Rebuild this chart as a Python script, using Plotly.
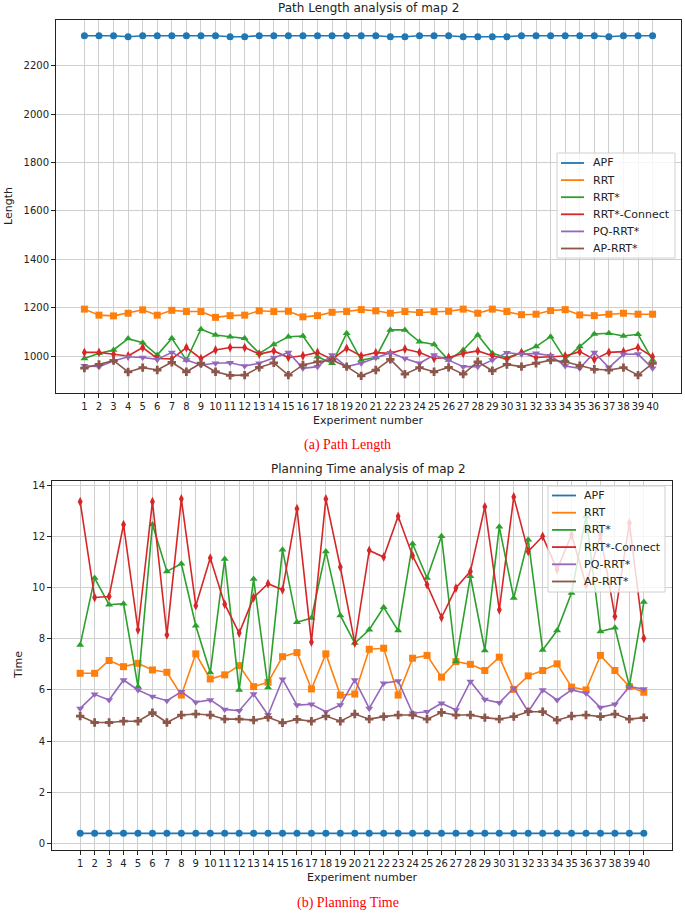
import plotly.graph_objects as go

W, H = 685, 914

experiments = list(range(1, 41))
series_names = ["APF", "RRT", "RRT*", "RRT*-Connect", "PQ-RRT*", "AP-RRT*"]
colors = ["#1f77b4", "#ff7f0e", "#2ca02c", "#d62728", "#9467bd", "#8c564b"]
symbols = ["circle", "square", "triangle-up", "diamond-tall", "triangle-down", "cross"]

# ---- Path length (map 2) ----
len_apf = [2325, 2325, 2325, 2321, 2325, 2325, 2325, 2325, 2325, 2325,
           2321, 2321, 2325, 2325, 2325, 2325, 2325, 2325, 2325, 2325,
           2325, 2321, 2321, 2325, 2325, 2325, 2321, 2321, 2321, 2321,
           2325, 2325, 2325, 2325, 2325, 2325, 2321, 2325, 2325, 2325]
len_rrt = [1194, 1169, 1166, 1177, 1191, 1169, 1189, 1184, 1184, 1160,
           1167, 1169, 1187, 1184, 1185, 1162, 1167, 1181, 1184, 1192,
           1187, 1177, 1184, 1180, 1184, 1185, 1194, 1177, 1194, 1184,
           1171, 1173, 1188, 1192, 1170, 1167, 1173, 1177, 1173, 1173]
len_rrtstar = [990, 1011, 1025, 1072, 1055, 1004, 1073, 983, 1111, 1087,
               1080, 1073, 1011, 1048, 1080, 1083, 997, 970, 1094, 983,
               994, 1108, 1108, 1059, 1048, 983, 1025, 1087, 1011, 993,
               1014, 1039, 1080, 986, 1039, 1091, 1094, 1083, 1090, 983]
len_connect = [1015, 1015, 1007, 1000, 1035, 990, 988, 1035, 989, 1025,
               1035, 1035, 1008, 1021, 994, 1001, 1015, 986, 1032, 1000,
               1014, 1011, 1029, 1015, 990, 994, 1011, 1021, 1001, 988,
               1015, 994, 997, 1000, 1018, 986, 1015, 1018, 1035, 997]
len_pq = [960, 956, 979, 997, 994, 986, 1015, 983, 963, 970,
          972, 959, 970, 994, 1015, 949, 956, 1004, 956, 970,
          993, 1014, 990, 970, 1004, 983, 956, 956, 983, 1014,
          1007, 1011, 1001, 959, 949, 1015, 952, 1007, 1008, 949]
len_ap = [950, 965, 981, 934, 952, 942, 974, 935, 970, 935,
          920, 921, 953, 972, 921, 963, 976, 983, 956, 918,
          942, 986, 925, 952, 935, 953, 925, 976, 939, 965,
          956, 970, 983, 976, 960, 945, 942, 952, 921, 970]

# ---- Planning time (map 2) ----
time_apf = [0.4] * 40
time_rrt = [6.65, 6.65, 7.15, 6.91, 7.04, 6.78, 6.69, 5.80, 7.41, 6.43,
            6.59, 6.95, 6.13, 6.30, 7.30, 7.46, 6.04, 7.41, 5.80, 5.84,
            7.59, 7.63, 5.80, 7.24, 7.35, 6.50, 7.11, 7.00, 6.76, 7.28,
            6.02, 6.55, 6.76, 7.02, 6.11, 6.00, 7.35, 6.76, 6.13, 5.91]
time_rrtstar = [7.76, 10.37, 9.33, 9.37, 6.13, 12.46, 10.63, 10.93, 8.51, 6.68,
                11.11, 6.00, 10.33, 6.10, 11.48, 8.64, 8.81, 11.41, 8.91, 7.83,
                8.35, 9.23, 8.32, 11.71, 10.37, 12.00, 7.11, 10.44, 7.54, 12.37,
                9.59, 11.87, 7.56, 8.32, 9.79, 12.78, 8.28, 8.43, 6.16, 9.43]
time_connect = [13.35, 9.61, 9.65, 12.46, 8.35, 13.35, 8.15, 13.46, 9.29, 11.15,
                9.35, 8.22, 9.61, 10.15, 9.91, 13.08, 7.87, 13.46, 10.80, 7.83,
                11.45, 11.19, 12.78, 11.24, 10.11, 8.83, 9.98, 10.63, 13.15, 9.13,
                13.54, 11.41, 12.00, 10.70, 12.06, 10.11, 12.06, 8.87, 12.52, 8.02]
time_pq = [5.28, 5.83, 5.61, 6.39, 6.00, 5.74, 5.58, 5.93, 5.52, 5.61,
           5.24, 5.19, 5.84, 5.02, 6.42, 5.41, 5.44, 5.15, 5.41, 6.39,
           5.28, 6.26, 6.35, 5.09, 5.15, 5.48, 5.22, 6.33, 5.63, 5.50,
           6.07, 5.15, 6.00, 5.61, 6.00, 5.87, 5.31, 5.44, 6.13, 6.04]
time_ap = [4.98, 4.73, 4.73, 4.78, 4.78, 5.11, 4.73, 5.02, 5.06, 5.02,
           4.86, 4.86, 4.82, 4.93, 4.72, 4.85, 4.78, 4.98, 4.78, 5.06,
           4.86, 4.96, 5.02, 5.02, 4.86, 5.12, 5.02, 5.02, 4.92, 4.86,
           4.96, 5.15, 5.15, 4.82, 4.98, 5.02, 4.96, 5.06, 4.86, 4.92]

length_ticks = [1000, 1200, 1400, 1600, 1800, 2000, 2200]
time_ticks = [0, 2, 4, 6, 8, 10, 12, 14]

length_series = [len_apf, len_rrt, len_rrtstar, len_connect, len_pq, len_ap]
time_series = [time_apf, time_rrt, time_rrtstar, time_connect, time_pq, time_ap]

FONT = "DejaVu Sans"
TXT = "#222222"


def px_x(p):
    return p / W


def px_y(p):
    return 1 - p / H


fig = go.Figure()

for name, vals, col, sym in zip(series_names, length_series, colors, symbols):
    fig.add_trace(go.Scatter(
        x=experiments, y=vals, mode="lines+markers", name=name,
        line=dict(color=col, width=1.6),
        marker=dict(symbol=sym, size=7, color=col),
        xaxis="x", yaxis="y", showlegend=False))

for name, vals, col, sym in zip(series_names, time_series, colors, symbols):
    fig.add_trace(go.Scatter(
        x=experiments, y=vals, mode="lines+markers", name=name,
        line=dict(color=col, width=1.6),
        marker=dict(symbol=sym, size=7, color=col),
        xaxis="x2", yaxis="y2", showlegend=False))

axis_common = dict(
    showline=True, mirror=True, linecolor=TXT, linewidth=1,
    ticks="outside", ticklen=4, tickcolor=TXT,
    showgrid=True, gridcolor="#cfcfcf", gridwidth=1,
    zeroline=False, tickfont=dict(family=FONT, size=10, color=TXT),
)

x_range = [-0.95, 41.95]

fig.update_layout(
    width=W, height=H,
    margin=dict(l=0, r=0, t=0, b=0),
    paper_bgcolor="white", plot_bgcolor="white",
    font=dict(family=FONT, color=TXT),
    showlegend=False,
    hovermode=False,
    xaxis=dict(domain=[px_x(56), px_x(681)], range=x_range, tickmode="array",
               tickvals=experiments, ticktext=[str(e) for e in experiments],
               tickangle=0, anchor="y", **axis_common),
    yaxis=dict(domain=[px_y(393), px_y(20)], range=[847, 2390], tickmode="array",
               tickvals=length_ticks, anchor="x", **axis_common),
    xaxis2=dict(domain=[px_x(52), px_x(672)], range=x_range, tickmode="array",
                tickvals=experiments, ticktext=[str(e) for e in experiments],
                tickangle=0, anchor="y2", **axis_common),
    yaxis2=dict(domain=[px_y(850), px_y(481)], range=[-0.25, 14.16], tickmode="array",
                tickvals=time_ticks, anchor="x2", **axis_common),
)

# ---- hand-drawn legends (line samples only, as in the reference) ----
def add_legend(box, line_x0, line_x1, text_x, first_y, step):
    x0, y0, x1, y1 = box
    fig.add_shape(type="rect", xref="paper", yref="paper",
                  x0=px_x(x0), x1=px_x(x1), y0=px_y(y1), y1=px_y(y0),
                  fillcolor="rgba(255,255,255,0.8)", line=dict(color="#d0d0d0", width=1),
                  layer="above")
    for i, (name, col) in enumerate(zip(series_names, colors)):
        yy = first_y + i * step
        fig.add_shape(type="line", xref="paper", yref="paper",
                      x0=px_x(line_x0), x1=px_x(line_x1), y0=px_y(yy), y1=px_y(yy),
                      line=dict(color=col, width=1.8), layer="above")
        fig.add_annotation(text=name, x=px_x(text_x), y=px_y(yy), xref="paper", yref="paper",
                           xanchor="left", yanchor="middle", showarrow=False,
                           font=dict(family=FONT, size=11, color=TXT))


add_legend((557, 153, 675, 258), 561, 584, 591, 163, 17.1)
add_legend((548, 486, 665, 592), 552, 576, 582, 495.5, 17.2)

annots = [
    dict(text="Path Length analysis of map 2", x=px_x(368), y=px_y(8), size=12,
         family=FONT, color=TXT, angle=0),
    dict(text="Experiment number", x=px_x(368), y=px_y(421), size=11,
         family=FONT, color=TXT, angle=0),
    dict(text="Length", x=px_x(8), y=px_y(206), size=11,
         family=FONT, color=TXT, angle=-90),
    dict(text="(a) Path Length", x=px_x(348), y=px_y(445), size=14,
         family="Liberation Serif", color="#ff0000", angle=0),
    dict(text="Planning Time analysis of map 2", x=px_x(368), y=px_y(469), size=12,
         family=FONT, color=TXT, angle=0),
    dict(text="Experiment number", x=px_x(362), y=px_y(877), size=11,
         family=FONT, color=TXT, angle=0),
    dict(text="Time", x=px_x(18), y=px_y(665), size=11,
         family=FONT, color=TXT, angle=-90),
    dict(text="(b) Planning Time", x=px_x(348), y=px_y(903), size=14,
         family="Liberation Serif", color="#ff0000", angle=0),
]
for a in annots:
    fig.add_annotation(text=a["text"], x=a["x"], y=a["y"], xref="paper", yref="paper",
                       xanchor="center", yanchor="middle", showarrow=False,
                       textangle=a["angle"],
                       font=dict(family=a["family"], size=a["size"], color=a["color"]))

fig.write_html("out.html", config={"displayModeBar": False, "staticPlot": True},
               post_script="document.body.style.margin='0';document.body.style.overflow='hidden';")
